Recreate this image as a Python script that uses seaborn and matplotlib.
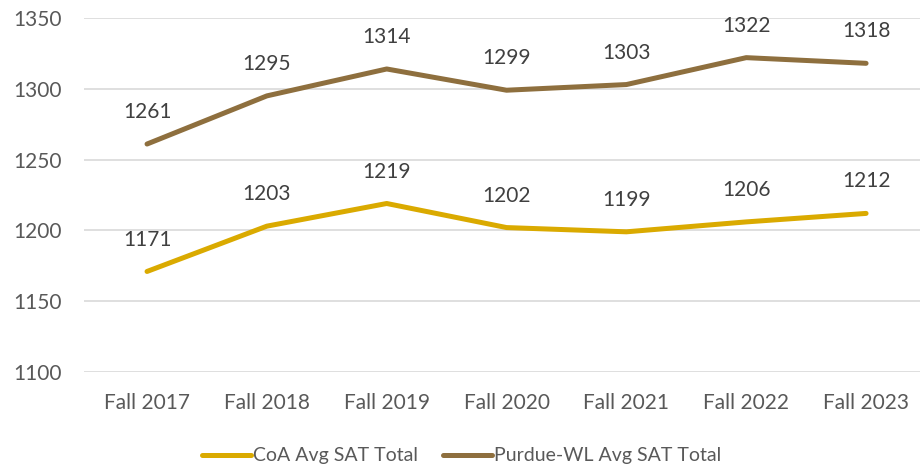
import matplotlib
matplotlib.use("Agg")
import matplotlib.pyplot as plt
import seaborn as sns
import pandas as pd

terms = ["Fall 2017", "Fall 2018", "Fall 2019", "Fall 2020", "Fall 2021", "Fall 2022", "Fall 2023"]
coa = [1171, 1203, 1219, 1202, 1199, 1206, 1212]
purdue = [1261, 1295, 1314, 1299, 1303, 1322, 1318]
series_names = ["CoA Avg SAT Total", "Purdue-WL Avg SAT Total"]
colors = ["#DAAA00", "#8E6F3E"]

sns.set_theme(style="white")
plt.rcParams["font.family"] = ["Lato", "DejaVu Sans"]
text_color = "#595959"

df = pd.DataFrame({
    "term": terms * 2,
    "idx": list(range(len(terms))) * 2,
    "value": coa + purdue,
    "series": [series_names[0]] * len(terms) + [series_names[1]] * len(terms),
})

fig = plt.figure(figsize=(9.23, 4.71), dpi=100)
ax = fig.add_axes([84 / 923, 1 - 372 / 471, (920 - 84) / 923, (372 - 18) / 471])

sns.lineplot(data=df, x="idx", y="value", hue="series", palette=colors,
             linewidth=3.6, ax=ax, legend=False, solid_capstyle="round")

for vals in (coa, purdue):
    for i, v in enumerate(vals):
        ax.annotate(str(v), (i, v), xytext=(0, 23), textcoords="offset points",
                    ha="center", va="center", fontsize=15, color="#404040")

ax.set_xlim(-0.526, 6.45)
ax.set_ylim(1100, 1350)
ax.set_yticks(range(1100, 1351, 50))
ax.set_xticks(range(len(terms)))
ax.set_xticklabels(terms)
ax.grid(axis="y", color="#d9d9d9", linewidth=1.2)
ax.set_axisbelow(True)
for s in ax.spines.values():
    s.set_visible(False)
ax.tick_params(axis="y", length=0, labelsize=15, colors=text_color, pad=16)
ax.tick_params(axis="x", length=0, labelsize=15, colors=text_color, pad=15)
ax.set_xlabel("")
ax.set_ylabel("")

from matplotlib.lines import Line2D
handles = [Line2D([0], [0], color=c, linewidth=3.6, solid_capstyle="round") for c in colors]
leg = fig.legend(handles, series_names, loc="center", bbox_to_anchor=(0.5, 1 - 456 / 471),
                 ncol=2, frameon=False, fontsize=14, handlelength=2.5, handletextpad=0.1,
                 columnspacing=1.3)
for t in leg.get_texts():
    t.set_color(text_color)

fig.savefig("out.png", dpi=100)
